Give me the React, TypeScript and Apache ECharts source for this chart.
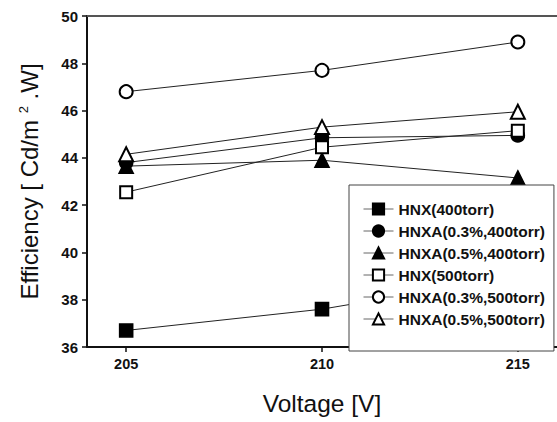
import React, { useEffect, useRef } from "react";
import * as echarts from "echarts";

const voltages = [205, 210, 215];
const xTicks = [205, 210, 215];
const seriesNames = [
  "HNX(400torr)",
  "HNXA(0.3%,400torr)",
  "HNXA(0.5%,400torr)",
  "HNX(500torr)",
  "HNXA(0.3%,500torr)",
  "HNXA(0.5%,500torr)",
];
const hnx400 = [36.7, 37.6, 39.0];
const hnxa03_400 = [43.8, 44.85, 44.95];
const hnxa05_400 = [43.65, 43.9, 43.15];
const hnx500 = [42.55, 44.45, 45.15];
const hnxa03_500 = [46.8, 47.7, 48.9];
const hnxa05_500 = [44.15, 45.3, 45.95];
const symbols = ["rect", "circle", "triangle", "emptyRect", "emptyCircle", "emptyTriangle"];
const symbolSizes = [13, 13, 14, 12, 13, 14];

const FONT = "'Liberation Sans', Arial, Helvetica, sans-serif";

export default function App() {
  const ref = useRef<HTMLDivElement>(null);
  useEffect(() => {
    if (!ref.current) return;
    const chart = echarts.init(ref.current, undefined, { renderer: "svg" });
    const allData = [hnx400, hnxa03_400, hnxa05_400, hnx500, hnxa03_500, hnxa05_500];
    const series = allData.map((vals, i) => ({
      name: seriesNames[i],
      type: "line",
      data: vals.map((v, j) => [voltages[j], v]),
      symbol: symbols[i],
      symbolSize: symbolSizes[i],
      showAllSymbol: true,
      lineStyle: { color: "#222", width: 1 },
      itemStyle: { color: "#000", borderColor: "#000", borderWidth: 1.6 },
      emphasis: { disabled: true },
    }));
    chart.setOption({
      animation: false,
      backgroundColor: "#fff",
      textStyle: { fontFamily: FONT },
      grid: { left: 87, right: 0, top: 16, bottom: 75 },
      xAxis: [
        {
          type: "value",
          min: 204,
          max: 216,
          name: "Voltage [V]",
          nameLocation: "middle",
          nameGap: 44,
          nameTextStyle: { fontSize: 24.5, color: "#111", fontFamily: FONT },
          axisLine: { show: true, lineStyle: { color: "#111", width: 2 } },
          axisTick: { show: true, length: 5, customValues: xTicks, lineStyle: { color: "#111", width: 1.5 } },
          axisLabel: {
            customValues: xTicks,
            margin: 9,
            fontSize: 14.5,
            fontWeight: "bold",
            color: "#111",
            fontFamily: FONT,
          },
          splitLine: { show: false },
        },
        {
          type: "value",
          position: "top",
          min: 204,
          max: 216,
          axisLine: { show: true, lineStyle: { color: "#555", width: 2 } },
          axisTick: { show: false },
          axisLabel: { show: false },
          splitLine: { show: false },
        },
      ],
      yAxis: {
        type: "value",
        min: 36,
        max: 50,
        interval: 2,
        name: "Efficiency [ Cd/m {sup|2} .W]",
        nameLocation: "middle",
        nameGap: 46,
        nameTextStyle: {
          fontSize: 24,
          color: "#111",
          fontFamily: FONT,
          rich: { sup: { fontSize: 13, verticalAlign: "top", color: "#111", fontFamily: FONT } },
        },
        axisLine: { show: true, lineStyle: { color: "#111", width: 2 } },
        axisTick: { show: true, length: 5, lineStyle: { color: "#111", width: 1.5 } },
        axisLabel: { margin: 9, fontSize: 15, fontWeight: "bold", color: "#111", fontFamily: FONT },
        splitLine: { show: false },
      },
      legend: {
        data: seriesNames,
        orient: "vertical",
        left: 349,
        top: 185,
        padding: [16, 9, 24, 14],
        itemGap: 6,
        itemWidth: 30,
        itemHeight: 14,
        backgroundColor: "#fff",
        borderColor: "#444",
        borderWidth: 1,
        lineStyle: { color: "#666", width: 1 },
        textStyle: { fontSize: 15.5, fontWeight: "bold", color: "#111", fontFamily: FONT, lineHeight: 16 },
      },
      series,
    });
    return () => chart.dispose();
  }, []);
  return (
    <div
      ref={ref}
      style={{ position: "absolute", left: 0, top: 0, width: 557, height: 422 }}
    />
  );
}
